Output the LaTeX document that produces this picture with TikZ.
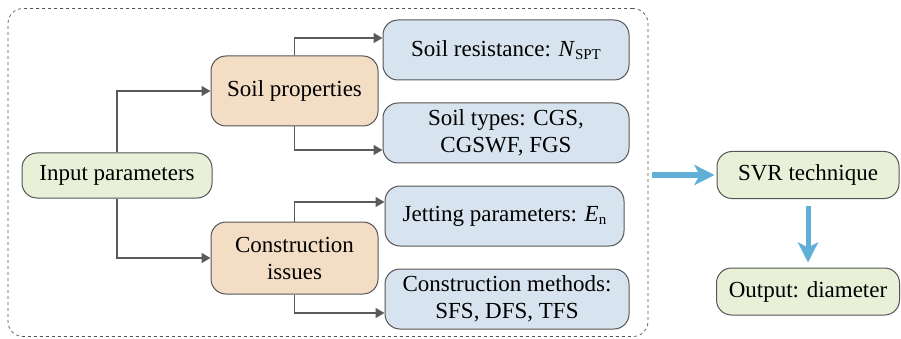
\documentclass[tikz,border=0pt]{standalone}
\usepackage{fontspec}
\setmainfont{Liberation Serif}
\newfontfamily\tnr{Liberation Serif}
\usetikzlibrary{arrows.meta,calc}
\definecolor{gfill}{RGB}{232,241,216}
\definecolor{ofill}{RGB}{243,222,197}
\definecolor{bfill}{RGB}{215,228,240}
\definecolor{edge}{RGB}{85,85,85}
\definecolor{arrgray}{RGB}{90,90,90}
\definecolor{skyarr}{RGB}{95,175,215}
\tikzset{
  base/.style={draw=edge, line width=1pt, rounded corners=15pt, align=center,
    inner sep=0pt, font=\tnr\fontsize{23}{27}\selectfont},
  gbox/.style={base, fill=gfill},
  obox/.style={base, fill=ofill},
  bbox/.style={base, fill=bfill},
  conn/.style={draw=arrgray, line width=1.5pt, -{Triangle[length=9pt,width=10pt]}},
  bluearr/.style={draw=skyarr, line width=5pt, -{Stealth[length=20pt,width=20pt,inset=5pt]}},
  frame/.style={draw=edge, dashed, line width=0.7pt, rounded corners=15pt, inner sep=0pt}
}
\begin{document}
\begin{tikzpicture}[x=1pt,y=-1pt]
\useasboundingbox (0,0) rectangle (901,339);
\node[frame, minimum width=640pt, minimum height=328pt] (frm) at (328,172.5) {};
\node[gbox, minimum width=190pt, minimum height=45pt] (inp) at (117,175.5) {Input parameters};
\node[obox, minimum width=167pt, minimum height=70pt] (soil) at (294.5,91) {Soil properties};
\node[obox, minimum width=167pt, minimum height=72pt] (cons) at (294.5,258) {Construction\\issues};
\node[bbox, minimum width=246pt, minimum height=60pt] (res) at (506,50) {Soil resistance: \textit{N}\raisebox{-0.3ex}{\fontsize{15}{15}\selectfont SPT}};
\node[bbox, minimum width=246pt, minimum height=60pt] (typ) at (506,133) {Soil types: CGS,\\CGSWF, FGS};
\node[bbox, minimum width=239pt, minimum height=60pt] (jet) at (504.5,216) {Jetting parameters: \textit{E}\raisebox{-0.3ex}{\fontsize{15}{15}\selectfont n}};
\node[bbox, minimum width=244pt, minimum height=60pt] (meth) at (507,299) {Construction methods:\\SFS, DFS, TFS};
\node[gbox, minimum width=182pt, minimum height=47pt] (svr) at (808,175) {SVR technique};
\node[gbox, minimum width=183pt, minimum height=47pt] (out) at (808,291.5) {Output: diameter};
\draw[conn] (inp.north) |- (soil.west);
\draw[conn] (inp.south) |- (cons.west);
\draw[conn] (soil.north) |- ([yshift=12pt]res.west);
\draw[conn] (soil.south) |- ([yshift=-17pt]typ.west);
\draw[conn] (cons.north) |- ([yshift=14pt]jet.west);
\draw[conn] (cons.south) |- ([yshift=-14pt]meth.west);
\draw[bluearr, shorten <=4pt, shorten >=2pt] (frm.east |- svr.west) -- (svr.west);
\draw[bluearr, shorten <=7pt, shorten >=5pt] (svr.south) -- (out.north);
\end{tikzpicture}
\end{document}
